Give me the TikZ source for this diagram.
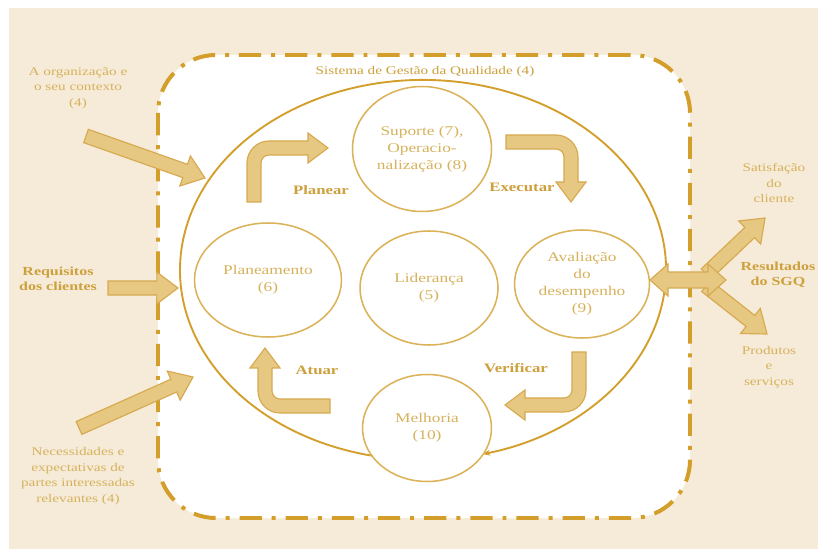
\documentclass[tikz,border=0pt]{standalone}
\usepackage{fontspec}
\setmainfont{Liberation Serif}[FakeStretch=1.3]
\usetikzlibrary{calc,shapes.geometric,arrows.meta}

\definecolor{sgqbg}{HTML}{F6EBD8}
\definecolor{sgqgold}{HTML}{D39E2A}
\definecolor{sgqring}{HTML}{DBB257}
\definecolor{sgqfill}{HTML}{E6C882}
\definecolor{sgqedge}{HTML}{D7AA50}
\definecolor{sgqtext}{HTML}{D6B25C}
\definecolor{sgqbold}{HTML}{CDA03C}

\tikzset{
  phase/.style={ellipse, draw=sgqring, line width=1.3pt, text=sgqtext, align=center,
    font=\fontsize{11.4}{14.4}\selectfont, inner sep=0pt},
  fatbox/.style={fill=sgqfill, draw=sgqedge, line width=1pt, line join=miter},
  outtext/.style={text=sgqtext, align=center, font=\fontsize{10}{13.2}\selectfont},
  verb/.style={text=sgqbold, font=\bfseries\fontsize{11}{13}\selectfont},
  keytext/.style={text=sgqbold, align=center, font=\bfseries\fontsize{10.5}{12.8}\selectfont},
}

% straight block arrow, tail -> tip
\def\fatarrow(#1)(#2){%
  \coordinate (#1-b) at ($(#2)!18pt!(#1)$);
  \draw[fatbox] ($(#1)!6pt!90:(#2)$) -- ($(#1-b)!6pt!90:(#2)$) -- ($(#1-b)!13.6pt!90:(#2)$)
    -- (#2) -- ($(#1-b)!13.6pt!-90:(#2)$) -- ($(#1-b)!6pt!-90:(#2)$) -- ($(#1)!6pt!-90:(#2)$) -- cycle;}

\begin{document}
\begin{tikzpicture}[x=0.3mm, y=-0.3mm]
		%%%%% START %%%%%
		\useasboundingbox (0, 0) rectangle (818, 549);
		\fill[white] (0, 0) rectangle (818, 549);
		\fill[sgqbg] (9, 8) rectangle (818, 549);
		
		% system boundary
		\draw[fill=white, draw=sgqgold, line width=3.4pt, rounded corners=17.4mm,
		  dash pattern=on 19pt off 8.5pt on 3.4pt off 8.5pt] (158, 55) rectangle (690, 518);
		\node[text=sgqbold, font=\fontsize{10}{12}\selectfont] (sgq) at (425, 72) {Sistema de Gestão da Qualidade (4)};
		
		% PDCA ring
		\coordinate (ringstart) at (372.5, 455.8);
		\draw[sgqgold, line width=1.6pt, -{Stealth[length=6pt, width=5pt]}] (ringstart)
		  arc[start angle=102, end angle=435.7, x radius=243, y radius=190];
		
		\node[phase, minimum width=41.7mm, minimum height=37.5mm] (suporte) at (422, 149) {Suporte (7),\\Operacio-\\nalização (8)};
		\node[phase, minimum width=44.1mm, minimum height=34.2mm] (planeamento) at (268, 280) {Planeamento\\(6)};
		\node[phase, minimum width=41.4mm, minimum height=34.2mm] (lideranca) at (429, 288) {Liderança\\(5)};
		\node[phase, minimum width=40.5mm, minimum height=32.4mm] (avaliacao) at (582, 284) {Avaliação\\do\\desempenho\\(9)};
		\node[phase, minimum width=38.7mm, minimum height=32.1mm] (melhoria) at (427, 428) {Melhoria\\(10)};
		
		% bent arrows of the cycle
		\draw[fatbox] (247, 202) -- (247, 163) arc[start angle=180, end angle=270, radius=22] -- (308, 141)
		  -- (308, 133) -- (328, 148) -- (308, 163) -- (308, 155) -- (269, 155)
		  arc[start angle=270, end angle=180, radius=8] -- (261, 202) -- cycle;
		\draw[fatbox] (506, 135) -- (556, 135) arc[start angle=270, end angle=360, radius=22] -- (578, 182)
		  -- (586, 182) -- (571, 202) -- (556, 182) -- (564, 182) -- (564, 157)
		  arc[start angle=0, end angle=-90, radius=8] -- (506, 149) -- cycle;
		\draw[fatbox] (586, 352) -- (586, 390) arc[start angle=0, end angle=90, radius=22] -- (525, 412)
		  -- (525, 420) -- (505, 405) -- (525, 390) -- (525, 398) -- (564, 398)
		  arc[start angle=90, end angle=0, radius=8] -- (572, 352) -- cycle;
		\draw[fatbox] (330, 413) -- (280, 413) arc[start angle=90, end angle=180, radius=22] -- (258, 368)
		  -- (250, 368) -- (265, 348) -- (280, 368) -- (272, 368) -- (272, 391)
		  arc[start angle=180, end angle=90, radius=8] -- (330, 399) -- cycle;
		
		\node[verb] (planear) at (321, 190) {Planear};
		\node[verb] (executar) at (522, 187) {Executar};
		\node[verb] (verificar) at (516, 368) {Verificar};
		\node[verb] (atuar) at (317, 370) {Atuar};
		
		% inputs
		\node[outtext] (contexto) at (78, 88) {A organização e\\o seu contexto\\(4)};
		\node[keytext] (requisitos) at (58, 279) {Requisitos\\dos clientes};
		\node[outtext] (partes) at (78, 476) {Necessidades e\\expectativas de\\partes interessadas\\relevantes (4)};
		
		\coordinate (contail) at (86, 136);
		\coordinate (contip) at (205, 178);
		\coordinate (reqtail) at (108, 288);
		\coordinate (reqtip) at (178, 288);
		\coordinate (partail) at (79, 428);
		\coordinate (partip) at (193, 377);
		\fatarrow(contail)(contip)
		\fatarrow(reqtail)(reqtip)
		\fatarrow(partail)(partip)
		
		% outputs
		\node[outtext] (satisfacao) at (774, 183) {Satisfação\\do\\cliente};
		\node[keytext] (resultados) at (778, 275) {Resultados\\do SGQ};
		\node[outtext] (produtos) at (769, 367) {Produtos\\e\\serviços};
		
		\coordinate (uptail) at (706, 274);
		\coordinate (uptip) at (765, 218);
		\coordinate (downtail) at (706, 286);
		\coordinate (downtip) at (767, 334);
		\fatarrow(uptail)(uptip)
		\fatarrow(downtail)(downtip)
		\draw[fatbox] (650, 280) -- (668, 264) -- (668, 272) -- (708, 272) -- (708, 264) -- (726, 280)
		  -- (708, 296) -- (708, 288) -- (668, 288) -- (668, 296) -- cycle;
		%%%%% END %%%%%
	\end{tikzpicture}
\end{document}
